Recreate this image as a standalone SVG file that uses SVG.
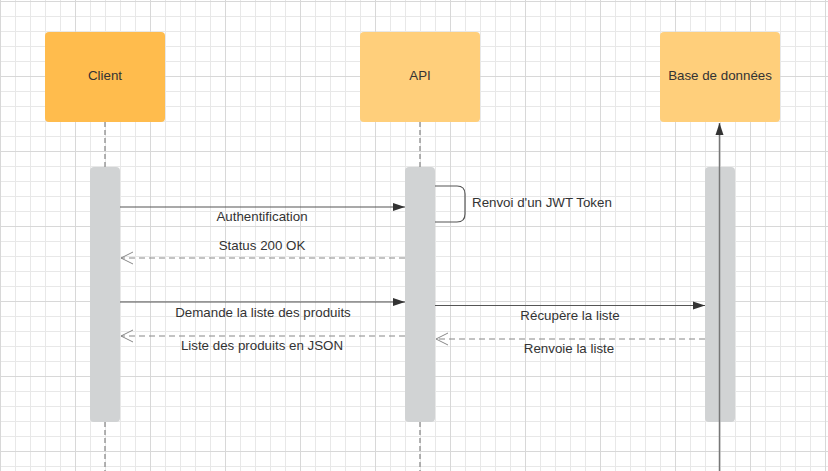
<svg xmlns="http://www.w3.org/2000/svg" width="828" height="471" viewBox="0 0 828 471">
<defs>
<pattern id="minor" width="15" height="15" patternUnits="userSpaceOnUse" x="0" y="1">
<path d="M0.5 0V15M0 0.5H15" fill="none" stroke="#e8e8e8" stroke-width="1"/>
</pattern>
<pattern id="major" width="75" height="75" patternUnits="userSpaceOnUse" x="0" y="1">
<path d="M0.5 0V75M0 0.5H75" fill="none" stroke="#d8d8d8" stroke-width="1"/>
</pattern>
<marker id="filled" markerWidth="13" markerHeight="10" refX="12" refY="5" orient="auto" markerUnits="userSpaceOnUse">
<path d="M0 1L12 5L0 9Z" fill="#333333"/>
</marker>
<marker id="open" markerWidth="15" markerHeight="14" refX="13" refY="7" orient="auto" markerUnits="userSpaceOnUse">
<path d="M1 1L13 7L1 13" fill="none" stroke="#888888" stroke-width="1"/>
</marker>
</defs>
<style>
.box{stroke:none}
.t{font-family:"Liberation Sans",Arial,sans-serif;font-size:13.33px;fill:#333333}
.c{text-anchor:middle}
.life{stroke:#8c8c8c;stroke-width:1.3;stroke-dasharray:5,3;fill:none}
.act{fill:#d1d3d4}
.msg{stroke:#555555;stroke-width:1.2;fill:none}
.ret{stroke:#888888;stroke-width:1.2;stroke-dasharray:6,4;fill:none}
</style>
<rect width="828" height="471" fill="#ffffff"/>
<rect width="828" height="471" fill="url(#minor)"/>
<rect width="828" height="471" fill="url(#major)"/>

<g id="lifelines">
<line class="life" x1="105" y1="122" x2="105" y2="167"/>
<line class="life" x1="105" y1="422" x2="105" y2="471"/>
<line class="life" x1="420" y1="122" x2="420" y2="167"/>
<line class="life" x1="420" y1="422" x2="420" y2="471"/>
</g>

<g id="client">
<rect class="box" x="45" y="32" width="120" height="90" rx="4" fill="#ffbc4d"/>
<text class="t c" x="105" y="80">Client</text>
<rect class="act" x="90" y="167" width="30" height="255" rx="4"/>
</g>
<g id="api">
<rect class="box" x="360" y="32" width="120" height="90" rx="4" fill="#ffcf7b"/>
<text class="t c" x="420" y="80">API</text>
<rect class="act" x="405" y="167" width="30" height="255" rx="4"/>
</g>
<g id="db">
<rect class="box" x="660" y="32" width="120" height="90" rx="4" fill="#ffcf7b"/>
<text class="t c" x="720" y="80">Base de données</text>
<rect class="act" x="705" y="167" width="30" height="255" rx="4"/>
</g>

<g id="connectors">
<line x1="719.5" y1="471" x2="719.5" y2="123" stroke="#777777" stroke-width="1.5" marker-end="url(#filled)"/>
<line class="msg" x1="120" y1="207" x2="405" y2="207" marker-end="url(#filled)"/>
<path class="msg" d="M435 186H457Q465 186 465 194V214Q465 222 457 222H435"/>
<line class="ret" x1="405" y1="258" x2="121" y2="258" marker-end="url(#open)"/>
<line class="msg" x1="120" y1="302" x2="405" y2="302" marker-end="url(#filled)"/>
<line class="ret" x1="405" y1="336" x2="121" y2="336" marker-end="url(#open)"/>
<line class="msg" x1="435" y1="305.5" x2="705" y2="305.5" marker-end="url(#filled)"/>
<line class="ret" x1="705" y1="339" x2="436" y2="339" marker-end="url(#open)"/>
</g>

<g id="labels">
<text class="t c" x="262" y="221">Authentification</text>
<text class="t" x="472" y="207">Renvoi d'un JWT Token</text>
<text class="t c" x="262" y="250">Status 200 OK</text>
<text class="t c" x="263" y="317">Demande la liste des produits</text>
<text class="t c" x="262" y="350">Liste des produits en JSON</text>
<text class="t c" x="570" y="320">Récupère la liste</text>
<text class="t c" x="569" y="353">Renvoie la liste</text>
</g>
</svg>
